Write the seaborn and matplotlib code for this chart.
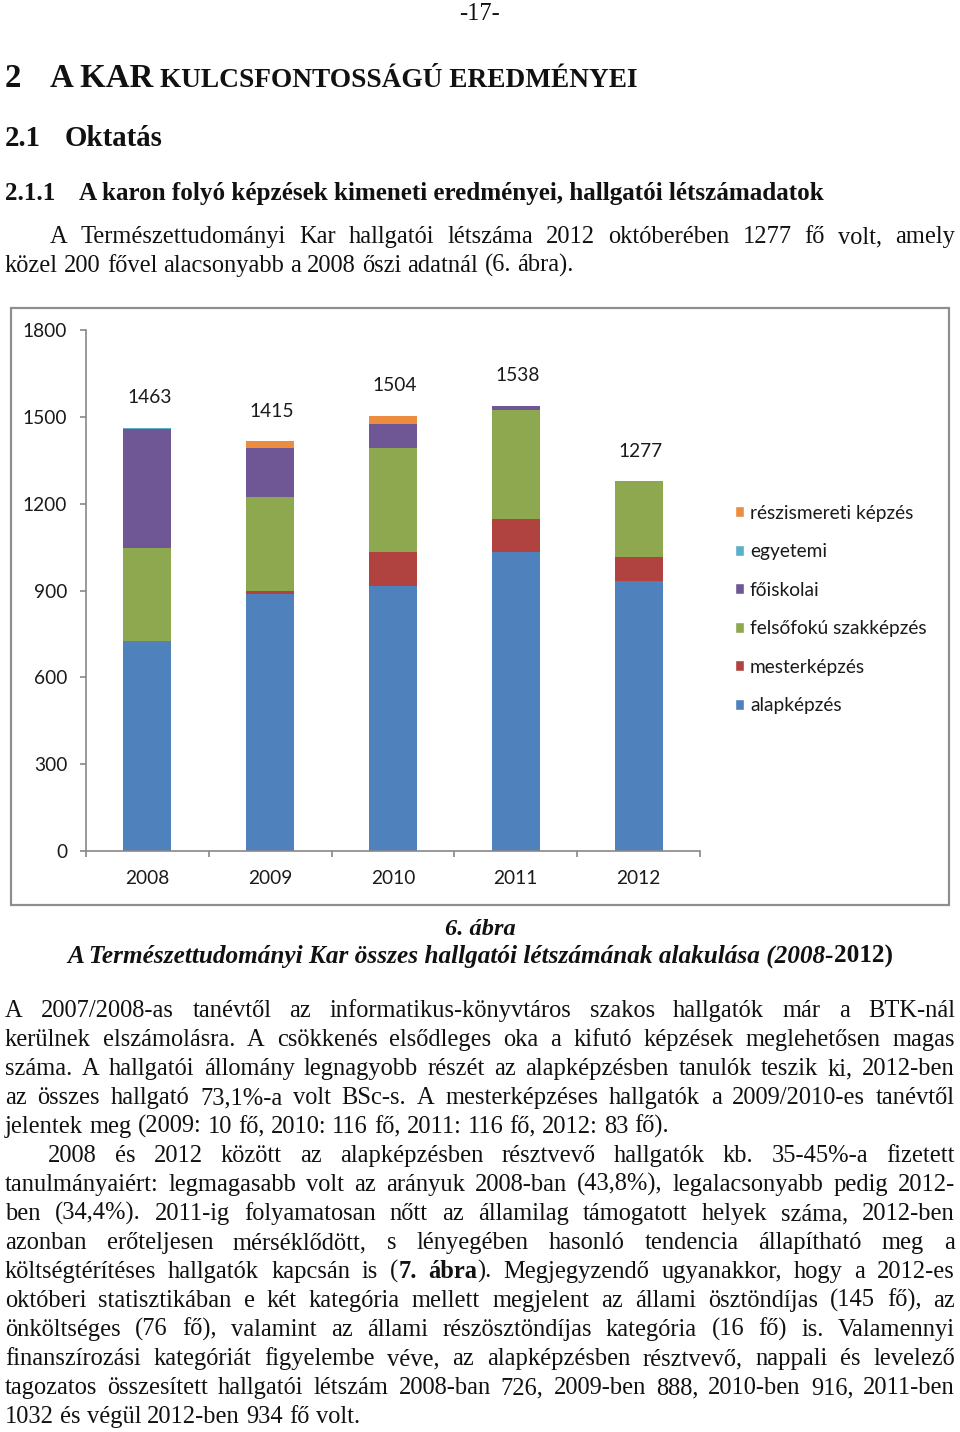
import numpy as np
import pandas as pd
import seaborn as sns
import matplotlib.pyplot as plt
from matplotlib.patches import Patch, Rectangle

# ----------------------------------------------------------------
# Chart data (6. ábra)
# ----------------------------------------------------------------
years = ["2008", "2009", "2010", "2011", "2012"]
alapkepzes = [726, 888, 916, 1032, 934]
mesterkepzes = [0, 10, 116, 116, 83]
felsofoku = [320, 325, 359, 376, 260]
foiskolai = [411, 168, 83, 14, 0]
egyetemi = [6, 0, 0, 0, 0]
reszismereti = [0, 24, 30, 0, 0]
totals = [1463, 1415, 1504, 1538, 1277]

series_names = ["alapképzés", "mesterképzés", "felsőfokú szakképzés",
                "főiskolai", "egyetemi", "részismereti képzés"]
series_values = [alapkepzes, mesterkepzes, felsofoku, foiskolai, egyetemi, reszismereti]
series_colors = ["#4F81BD", "#B0433F", "#8DA84F", "#6F5795", "#58B0CC", "#EB8C3E"]
y_ticks = [0, 300, 600, 900, 1200, 1500, 1800]

# ----------------------------------------------------------------
# Page text
# ----------------------------------------------------------------
para1 = [
    "A Természettudományi Kar hallgatói létszáma 2012 októberében 1277 fő volt, amely",
    "közel 200 fővel alacsonyabb a 2008 őszi adatnál (6. ábra).",
]
para2 = [
    "A 2007/2008-as tanévtől az informatikus-könyvtáros szakos hallgatók már a BTK-nál",
    "kerülnek elszámolásra. A csökkenés elsődleges oka a kifutó képzések meglehetősen magas",
    "száma. A hallgatói állomány legnagyobb részét az alapképzésben tanulók teszik ki, 2012-ben",
    "az összes hallgató 73,1%-a volt BSc-s. A mesterképzéses hallgatók a 2009/2010-es tanévtől",
    "jelentek meg (2009: 10 fő, 2010: 116 fő, 2011: 116 fő, 2012: 83 fő).",
]
para3 = [
    "2008 és 2012 között az alapképzésben résztvevő hallgatók kb. 35-45%-a fizetett",
    "tanulmányaiért: legmagasabb volt az arányuk 2008-ban (43,8%), legalacsonyabb pedig 2012-",
    "ben (34,4%). 2011-ig folyamatosan nőtt az államilag támogatott helyek száma, 2012-ben",
    "azonban erőteljesen mérséklődött, s lényegében hasonló tendencia állapítható meg a",
    "költségtérítéses hallgatók kapcsán is (**7. ábra**). Megjegyzendő ugyanakkor, hogy a 2012-es",
    "októberi statisztikában e két kategória mellett megjelent az állami ösztöndíjas (145 fő), az",
    "önköltséges (76 fő), valamint az állami részösztöndíjas kategória (16 fő) is. Valamennyi",
    "finanszírozási kategóriát figyelembe véve, az alapképzésben résztvevő, nappali és levelező",
    "tagozatos összesített hallgatói létszám 2008-ban 726, 2009-ben 888, 2010-ben 916, 2011-ben",
    "1032 és végül 2012-ben 934 fő volt.",
]

W, H = 960, 1432
SERIF = ["Liberation Serif", "DejaVu Serif"]
SANS = ["Lato", "DejaVu Sans"]
CHART_FS = 13.8

sns.set_theme(style="white")
plt.rcParams["font.family"] = SANS

fig = plt.figure(figsize=(W / 100, H / 100), dpi=100)
fig.patch.set_facecolor("white")
renderer = fig.canvas.get_renderer()


def fx(px):
    return px / W


def fy(py):
    return 1 - py / H


def text_width(s, size, weight="normal", style="normal"):
    t = fig.text(0, 0, s, fontsize=size, fontweight=weight, fontstyle=style, family=SERIF)
    w = t.get_window_extent(renderer).width
    t.remove()
    return w


def fit_size(s, width, weight="normal", style="normal"):
    return 10 * width / text_width(s, 10, weight, style)


def put(x, y, s, size, weight="normal", style="normal", **kw):
    return fig.text(fx(x), fy(y), s, fontsize=size, fontweight=weight, fontstyle=style,
                    family=SERIF, va="baseline", ha="left", color="#111111", **kw)


def split_words(line):
    # words -> list of (segment, bold) pieces; ** toggles bold
    words, bold = [], False
    for w in line.split(" "):
        parts = w.split("**")
        segs = []
        for i, p in enumerate(parts):
            if i > 0:
                bold = not bold
            if p:
                segs.append((p, bold))
        words.append(segs)
    return words


def draw_line(line, x0, y, size, x1=None):
    words = split_words(line)
    widths = []
    for segs in words:
        widths.append(sum(text_width(s, size, "bold" if b else "normal") for s, b in segs))
    space = text_width("x x", size) - text_width("xx", size)
    if x1 is not None and len(words) > 1:
        space = (x1 - x0 - sum(widths)) / (len(words) - 1)
    x = x0
    for segs, w in zip(words, widths):
        xs = x
        for s, b in segs:
            wt = "bold" if b else "normal"
            put(xs, y, s, size, weight=wt)
            xs += text_width(s, size, wt)
        x += w + space


# body size calibrated on the last line of the first paragraph
body = fit_size(para1[1], 571)

# page number and headings
put(480 - text_width("-17-", body) / 2, 20, "-17-", body)
h1 = fit_size("A KAR", 103, "bold")
put(5, 87, "2", h1, "bold")
put(50, 87, "A KAR", h1, "bold")
put(160, 87, "KULCSFONTOSSÁGÚ EREDMÉNYEI", fit_size("KULCSFONTOSSÁGÚ EREDMÉNYEI", 477, "bold"), "bold")
h2 = fit_size("Oktatás", 98, "bold")
put(5, 146, "2.1", h2, "bold")
put(65, 146, "Oktatás", h2, "bold")
h3 = fit_size("A karon folyó képzések kimeneti eredményei, hallgatói létszámadatok", 749, "bold")
put(5, 200, "2.1.1", h3, "bold")
put(79, 200, "A karon folyó képzések kimeneti eredményei, hallgatói létszámadatok", h3, "bold")

# paragraphs
draw_line(para1[0], 50, 243, body, 955)
draw_line(para1[1], 5, 272, body)

y = 1017
for i, line in enumerate(para2):
    draw_line(line, 5, y, body, None if i == len(para2) - 1 else 955)
    y += 29
for i, line in enumerate(para3):
    x0 = 48 if i == 0 else 5
    draw_line(line, x0, y, body, None if i == len(para3) - 1 else 955)
    y += 29

# caption
cap_a = "A Természettudományi Kar összes hallgatói létszámának alakulása (2008-"
cap_b = "2012)"
cs = fit_size("6. ábra", 71, "bold", "italic")
put(480 - text_width("6. ábra", cs, "bold", "italic") / 2, 935, "6. ábra", cs, "bold", "italic")
wa = text_width(cap_a, 10, "bold", "italic")
wb = text_width(cap_b, 10, "bold")
ct = 10 * 826 / (wa + wb)
put(67, 963, cap_a, ct, "bold", "italic")
put(67 + wa * ct / 10, 963, cap_b, ct, "bold")

# ----------------------------------------------------------------
# Chart
# ----------------------------------------------------------------
fig.patches.append(Rectangle((fx(11), fy(905)), fx(938), (905 - 308) / H, transform=fig.transFigure,
                             fill=False, edgecolor="#8E8E8E", linewidth=1.6))

ax = fig.add_axes([fx(86), fy(851), fx(614), (851 - 330) / H])
cum = np.cumsum(np.array(series_values), axis=0)
for k in range(len(series_names) - 1, -1, -1):
    df = pd.DataFrame({"year": years, "value": cum[k]})
    sns.barplot(data=df, x="year", y="value", color=series_colors[k], saturation=1,
                width=0.39, errorbar=None, linewidth=0, ax=ax)

for i, t in enumerate(totals):
    ax.annotate(str(t), (i, t), xytext=(2, 30), textcoords="offset pixels",
                ha="center", va="center", fontsize=CHART_FS, color="#1a1a1a")

ax.set_xlim(-0.5, 4.5)
ax.set_ylim(0, 1800)
ax.set_yticks(y_ticks)
ax.set_xlabel("")
ax.set_ylabel("")
ax.set_facecolor("white")
for side in ["top", "right"]:
    ax.spines[side].set_visible(False)
for side in ["left", "bottom"]:
    ax.spines[side].set_color("#878787")
    ax.spines[side].set_linewidth(1.2)
ax.set_xticks(np.arange(-0.5, 5, 1), minor=True)
ax.tick_params(axis="y", which="major", length=4.5, width=1.2, color="#878787", pad=9,
               labelsize=CHART_FS, labelcolor="#1a1a1a", left=True, direction="out")
ax.tick_params(axis="x", which="major", length=0, pad=14, labelsize=CHART_FS, labelcolor="#1a1a1a")
ax.tick_params(axis="x", which="minor", length=4.5, width=1.2, color="#878787",
               bottom=True, direction="out")

handles = [Patch(facecolor=series_colors[k], label=series_names[k])
           for k in range(len(series_names) - 1, -1, -1)]
fig.legend(handles=handles, loc="upper left", bbox_to_anchor=(fx(727), fy(497)),
           frameon=False, fontsize=CHART_FS, handlelength=0.5, handleheight=0.5,
           handletextpad=0.3, labelspacing=1.12, borderaxespad=0, labelcolor="#1a1a1a")

fig.savefig("out.png", dpi=100, facecolor="white")
